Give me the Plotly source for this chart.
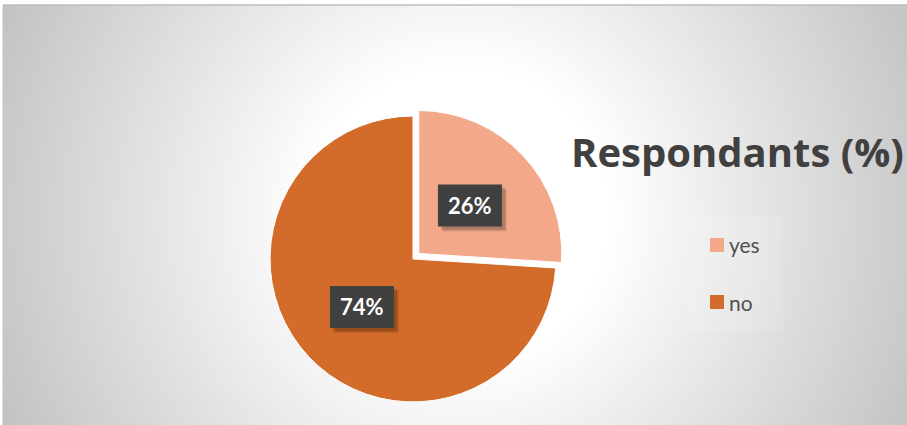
import base64, struct, zlib, math
import numpy as np
import plotly.graph_objects as go

# ---- data ----
labels = ["yes", "no"]
values = [26, 74]
label_texts = ["26%", "74%"]
colors = ["#F2A889", "#D36C2A"]
title_text = "Respondants (%)"

W, H = 907, 425
PULL = 0.056
DOM_X = [0.2889, 0.6218]
DOM_Y = [0.0353, 0.746]

# ---- background radial gradient image ----
def gradient_png(w, h, cx, cy, x0, y0):
    yy, xx = np.mgrid[0:h, 0:w]
    d = np.sqrt((xx - cx) ** 2 + (yy - cy) ** 2)
    c = 255 - 60 * np.clip((d - 150) / 350.0, 0, 1.2)
    c = np.clip(c, 0, 255)
    c[(xx < x0) | (yy < y0)] = 255
    img = c.astype(np.uint8)
    raw = b"".join(b"\x00" + img[r].tobytes() for r in range(h))
    def chunk(tag, data):
        out = struct.pack(">I", len(data)) + tag + data
        return out + struct.pack(">I", zlib.crc32(tag + data) & 0xffffffff)
    png = b"\x89PNG\r\n\x1a\n"
    png += chunk(b"IHDR", struct.pack(">IIBBBBB", w, h, 8, 0, 0, 0, 0))
    png += chunk(b"IDAT", zlib.compress(raw, 9))
    png += chunk(b"IEND", b"")
    return "data:image/png;base64," + base64.b64encode(png).decode()

bg = gradient_png(W, H, 460, 215, 3, 5)

fig = go.Figure()
fig.add_trace(go.Pie(
    labels=labels, values=values, sort=False, direction="clockwise", rotation=0,
    pull=[PULL, 0], marker=dict(colors=colors, line=dict(color="#FFFFFF", width=1)),
    textinfo="none", hoverinfo="label+percent", showlegend=False,
    domain=dict(x=DOM_X, y=DOM_Y),
))

# pie geometry (paper/pixel) for label placement
wpx = (DOM_X[1] - DOM_X[0]) * W
hpx = (DOM_Y[1] - DOM_Y[0]) * H
R = min(wpx, hpx) / 2 / (1 + PULL)
cxp = (DOM_X[0] + DOM_X[1]) / 2 * W
cyp = (DOM_Y[0] + DOM_Y[1]) / 2 * H
total = sum(values)
start = 0.0
annotations = []
shapes = []
BOX_W, BOX_H = 64, 42
for i, (v, t) in enumerate(zip(values, label_texts)):
    frac = v / total
    mid = (start + frac / 2) * 2 * math.pi
    start += frac
    r = 0.49 * R + (PULL * R if i == 0 else 0)
    px = cxp + r * math.sin(mid)
    py = cyp + r * math.cos(mid)
    # soft shadow + dark box
    for k, a in ((5, 0.08), (4, 0.1), (3, 0.12)):
        shapes.append(dict(type="rect", xref="paper", yref="paper",
                           x0=(px - BOX_W / 2 + k) / W, x1=(px + BOX_W / 2 + k) / W,
                           y0=(py - BOX_H / 2 - k) / H, y1=(py + BOX_H / 2 - k) / H,
                           fillcolor="rgba(0,0,0,%.2f)" % a, line=dict(width=0)))
    shapes.append(dict(type="rect", xref="paper", yref="paper",
                       x0=(px - BOX_W / 2) / W, x1=(px + BOX_W / 2) / W,
                       y0=(py - BOX_H / 2) / H, y1=(py + BOX_H / 2) / H,
                       fillcolor="#404040", line=dict(width=0)))
    annotations.append(dict(
        x=px / W, y=py / H, xref="paper", yref="paper", showarrow=False,
        xanchor="center", yanchor="middle",
        text="<b>%s</b>" % t, font=dict(family="Lato", size=22, color="#FFFFFF"),
    ))

# legend background and frame
shapes += [
    dict(type="rect", xref="paper", yref="paper", x0=687 / W, x1=783 / W,
         y0=1 - 331 / H, y1=1 - 216 / H, fillcolor="rgba(255,255,255,0.12)",
         line=dict(width=0), layer="below"),
    dict(type="line", xref="paper", yref="paper", x0=3 / W, x1=1, y0=1 - 5 / H, y1=1 - 5 / H,
         line=dict(color="#BDBDBD", width=1.5)),
    dict(type="line", xref="paper", yref="paper", x0=3 / W, x1=3 / W, y0=0, y1=1 - 5 / H,
         line=dict(color="#C4C4C4", width=1)),
]
leg_y = [245, 302]
for lab, col, ly in zip(labels, colors, leg_y):
    shapes.append(dict(type="rect", xref="paper", yref="paper",
                       x0=710 / W, x1=724 / W, y0=1 - (ly + 7) / H, y1=1 - (ly - 7) / H,
                       fillcolor=col, line=dict(width=0)))
    annotations.append(dict(x=727 / W, y=1 - ly / H, xref="paper", yref="paper",
                            xanchor="left", yanchor="middle", showarrow=False, text=lab,
                            font=dict(family="Lato", size=21, color="#505050")))

fig.update_layout(
    width=W, height=H, margin=dict(l=0, r=0, t=0, b=0),
    paper_bgcolor="#FFFFFF", plot_bgcolor="rgba(0,0,0,0)",
    title=dict(text="<b>%s</b>" % title_text, x=571 / W, xanchor="left",
               y=1 - 153 / H, yanchor="middle",
               font=dict(family="Open Sans", size=40, color="#404040")),
    images=[dict(source=bg, xref="paper", yref="paper", x=0, y=1, sizex=1, sizey=1,
                 xanchor="left", yanchor="top", sizing="stretch", layer="below")],
    shapes=shapes, annotations=annotations, showlegend=False,
)

fig.write_html("out.html")
